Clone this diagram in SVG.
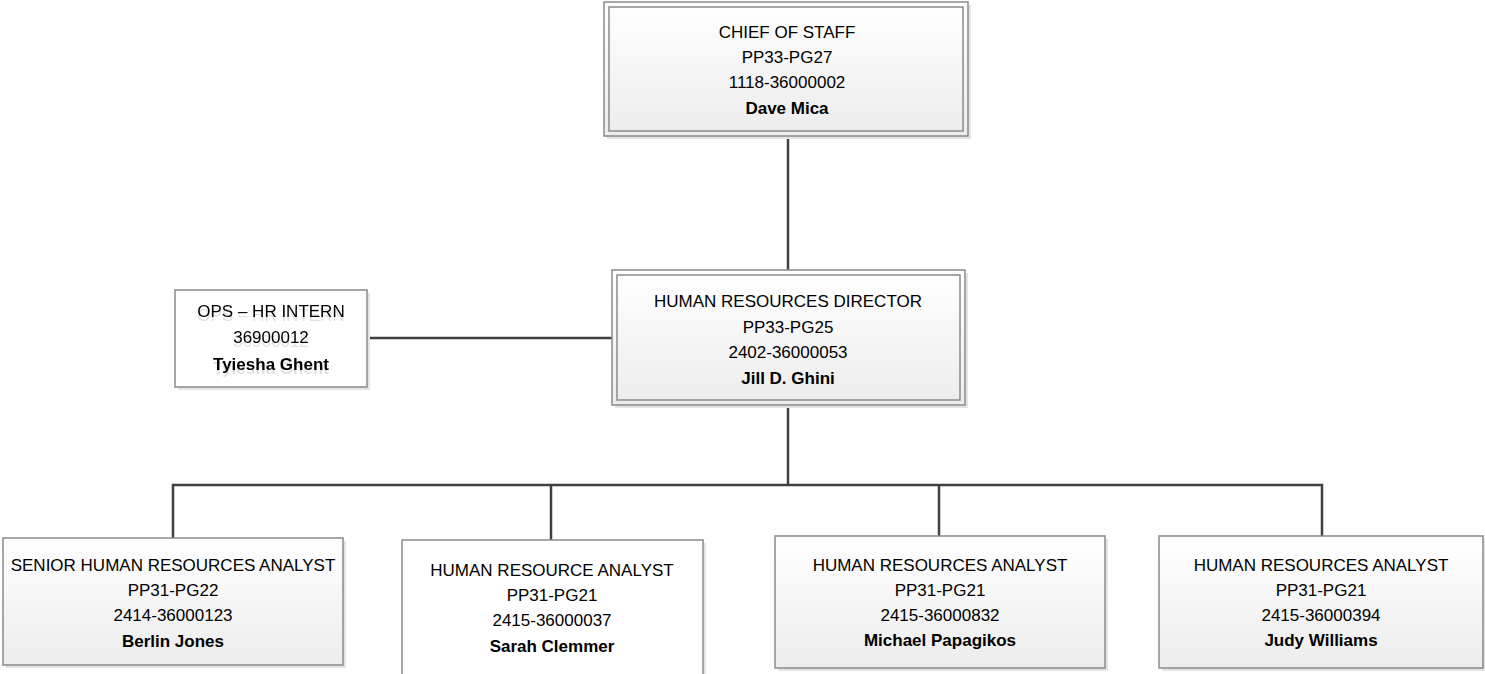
<svg xmlns="http://www.w3.org/2000/svg" width="1485" height="674" viewBox="0 0 1485 674">
  <defs>
    <linearGradient id="boxFill" x1="0" y1="0" x2="0" y2="1">
      <stop offset="0" stop-color="#ffffff"/>
      <stop offset="1" stop-color="#ececec"/>
    </linearGradient>
    <filter id="textGhost" x="-10%" y="-20%" width="120%" height="160%">
      <feOffset in="SourceGraphic" dx="0" dy="4" result="off"/>
      <feColorMatrix in="off" type="matrix" values="0 0 0 0 0  0 0 0 0 0  0 0 0 0 0  0 0 0 0.12 0" result="ghost"/>
      <feMerge>
        <feMergeNode in="ghost"/>
        <feMergeNode in="SourceGraphic"/>
      </feMerge>
    </filter>
    <style>
      .shadow { fill: #e4e4e4; stroke: none; }
      .box { fill: url(#boxFill); stroke: #8a8a8a; stroke-width: 1.5; }
      .plain { fill: #ffffff; stroke: #8a8a8a; stroke-width: 1.5; }
      .inner { fill: none; stroke: #8a8a8a; stroke-width: 1.5; }
      .wire { fill: none; stroke: #404040; stroke-width: 2.5; }
      text { font-family: "Liberation Sans", Arial, sans-serif; font-size: 17px; fill: #000000; text-anchor: middle; }
      .name { font-weight: bold; }
    </style>
  </defs>

  <!-- reporting lines -->
  <g id="connectors">
    <path class="wire" d="M788 136 V270"/>
    <path class="wire" d="M367 338 H612"/>
    <path class="wire" d="M788 405 V485"/>
    <path class="wire" d="M173 538 V485 H1322 V536"/>
    <path class="wire" d="M551 485 V540"/>
    <path class="wire" d="M939 485 V536"/>
  </g>

  <g id="chief-of-staff">
    <rect class="shadow" x="607" y="5" width="364" height="134"/>
    <rect class="box" x="604" y="2" width="364" height="134"/>
    <rect class="inner" x="609" y="7" width="354" height="124"/>
    <text x="787" y="38">CHIEF OF STAFF</text>
    <text x="787" y="63">PP33-PG27</text>
    <text x="787" y="88">1118-36000002</text>
    <text class="name" x="787" y="114">Dave Mica</text>
  </g>

  <g id="hr-director">
    <rect class="shadow" x="615" y="273" width="353" height="135"/>
    <rect class="box" x="612" y="270" width="353" height="135"/>
    <rect class="inner" x="617" y="275" width="343" height="125"/>
    <text x="788" y="307">HUMAN RESOURCES DIRECTOR</text>
    <text x="788" y="333">PP33-PG25</text>
    <text x="788" y="358">2402-36000053</text>
    <text class="name" x="788" y="384">Jill D. Ghini</text>
  </g>

  <g id="hr-intern">
    <rect class="shadow" x="178" y="293" width="192" height="97"/>
    <rect class="plain" x="175" y="290" width="192" height="97"/>
    <g filter="url(#textGhost)">
      <text x="271" y="317">OPS – HR INTERN</text>
      <text x="271" y="343">36900012</text>
      <text class="name" x="271" y="370">Tyiesha Ghent</text>
    </g>
  </g>

  <g id="senior-analyst">
    <rect class="shadow" x="6" y="541" width="340" height="127"/>
    <rect class="box" x="3" y="538" width="340" height="127"/>
    <text x="173" y="571">SENIOR HUMAN RESOURCES ANALYST</text>
    <text x="173" y="596">PP31-PG22</text>
    <text x="173" y="621">2414-36000123</text>
    <text class="name" x="173" y="647">Berlin Jones</text>
  </g>

  <g id="analyst-clemmer">
    <rect class="shadow" x="405" y="543" width="301" height="140"/>
    <rect class="plain" x="402" y="540" width="301" height="140"/>
    <text x="552" y="576">HUMAN RESOURCE ANALYST</text>
    <text x="552" y="601">PP31-PG21</text>
    <text x="552" y="626">2415-36000037</text>
    <text class="name" x="552" y="652">Sarah Clemmer</text>
  </g>

  <g id="analyst-papagikos">
    <rect class="shadow" x="778" y="539" width="330" height="132"/>
    <rect class="box" x="775" y="536" width="330" height="132"/>
    <text x="940" y="571">HUMAN RESOURCES ANALYST</text>
    <text x="940" y="596">PP31-PG21</text>
    <text x="940" y="621">2415-36000832</text>
    <text class="name" x="940" y="646">Michael Papagikos</text>
  </g>

  <g id="analyst-williams">
    <rect class="shadow" x="1162" y="539" width="324" height="132"/>
    <rect class="box" x="1159" y="536" width="324" height="132"/>
    <text x="1321" y="571">HUMAN RESOURCES ANALYST</text>
    <text x="1321" y="596">PP31-PG21</text>
    <text x="1321" y="621">2415-36000394</text>
    <text class="name" x="1321" y="646">Judy Williams</text>
  </g>
</svg>
